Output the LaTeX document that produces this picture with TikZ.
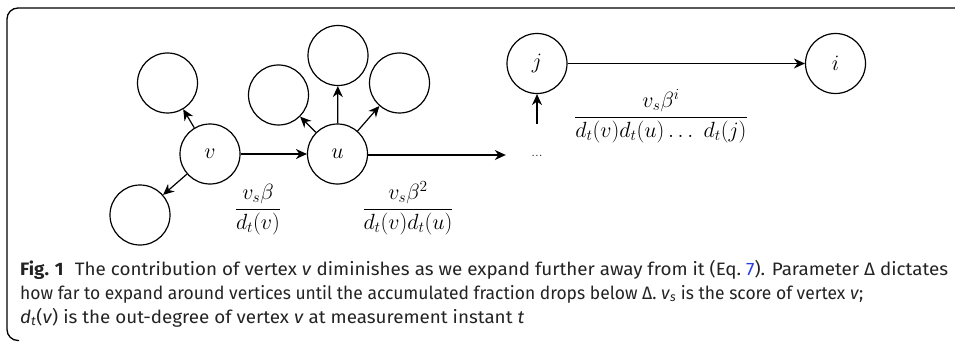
\RequirePackage{fix-cm}
\documentclass[tikz,border=0pt]{standalone}
\usepackage{fontspec}
\newfontfamily\capfont{Fira Sans}
\usetikzlibrary{arrows.meta}
\definecolor{linkblue}{RGB}{40,60,230}
\definecolor{captext}{RGB}{35,35,35}
\newlength\caplen
\newsavebox\capbox
\newcommand\fitline[2]{\sbox\capbox{#2}\setlength\caplen{\wd\capbox}\pgfmathsetmacro\capsx{#1/\caplen}\scalebox{\capsx}[1]{\usebox\capbox}}
\tikzset{
  vert/.style={circle,draw,line width=1.2pt,minimum size=60pt,inner sep=0pt,font=\fontsize{22}{24}\selectfont},
  edge/.style={line width=1.2pt,-{Stealth[length=11pt,width=10pt]}},
  frac/.style={inner sep=0pt,anchor=base,font=\fontsize{22}{24}\selectfont},
  capline/.style={anchor=base west,inner sep=0pt,text=captext,font=\capfont\fontsize{18}{20}\selectfont}
}
\begin{document}
\begin{tikzpicture}[x=1pt,y=-1pt]
\useasboundingbox (0,0) rectangle (955,342);
% frame
\draw[rounded corners=11pt,line width=1.3pt] (956,8) -- (7,8) -- (7,340.5) -- (19,340.5);
% vertices
\node[vert] (v) at (210,154) {$v$};
\node[vert] (u) at (337.5,154) {$u$};
\node[vert] (vtl) at (167.5,83) {};
\node[vert] (vbl) at (140,215) {};
\node[vert] (ul) at (278.5,95) {};
\node[vert] (ut) at (338,55.5) {};
\node[vert] (ur) at (399.5,83) {};
\node[vert] (j) at (537,63.5) {$j$};
\node[vert] (i) at (835.5,63.5) {$i$};
\node[inner sep=0pt,minimum width=62pt,minimum height=62pt,font=\fontsize{15}{16}\selectfont] (dots) at (537,155) {\raisebox{-4pt}{...}};
% edges
\draw[edge] (v) -- (vtl);
\draw[edge] (v) -- (vbl);
\draw[edge] (v) -- (u);
\draw[edge] (u) -- (ul);
\draw[edge] (u) -- (ut);
\draw[edge] (u) -- (ur);
\draw[edge] (u.east |- dots.west) -- (dots.west);
\draw[edge] (dots.north) -- (j);
\draw[edge] (j) -- (i);
% labels
\node[frac] (f1) at (258,214.5) {$\displaystyle\frac{v_s\beta}{d_t(v)}$};
\node[frac] (f2) at (408,214.5) {$\displaystyle\frac{v_s\beta^2}{d_t(v)d_t(u)}$};
\node[frac] (f3) at (661,122.5) {$\displaystyle\frac{v_s\beta^i}{d_t(v)d_t(u)\ldots\ d_t(j)}$};
% caption
\node[capline] (c1) at (20,275) {\fitline{928}{\textbf{Fig. 1}\hspace{0.6em}The contribution of vertex \textit{v} diminishes as we expand further away from it (Eq.~\textcolor{linkblue}{7}). Parameter Δ dictates}};
\node[capline] (c2) at (20,299) {\fitline{843}{how far to expand around vertices until the accumulated fraction drops below Δ. \textit{v}\textsubscript{\textit{s}} is the score of vertex \textit{v};}};
\node[capline] (c3) at (20,323) {\fitline{504}{\textit{d}\textsubscript{\textit{t}}(\textit{v}) is the out-degree of vertex \textit{v} at measurement instant \textit{t}}};
\end{tikzpicture}
\end{document}
